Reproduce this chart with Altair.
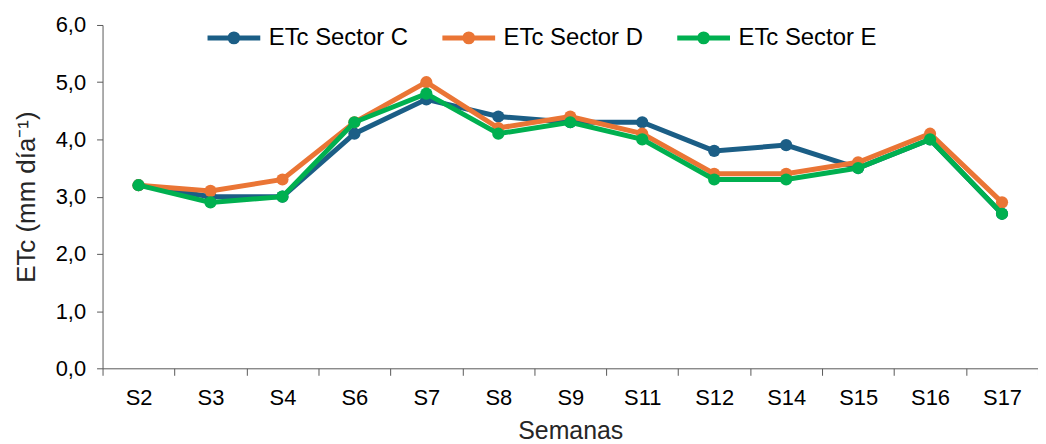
import altair as alt
import pandas as pd

semanas = ["S2", "S3", "S4", "S6", "S7", "S8", "S9", "S11", "S12", "S14", "S15", "S16", "S17"]
sector_c = [3.2, 3.0, 3.0, 4.1, 4.7, 4.4, 4.3, 4.3, 3.8, 3.9, 3.5, 4.0, 2.7]
sector_d = [3.2, 3.1, 3.3, 4.3, 5.0, 4.2, 4.4, 4.1, 3.4, 3.4, 3.6, 4.1, 2.9]
sector_e = [3.2, 2.9, 3.0, 4.3, 4.8, 4.1, 4.3, 4.0, 3.3, 3.3, 3.5, 4.0, 2.7]
series = ["ETc Sector C", "ETc Sector D", "ETc Sector E"]
colors = ["#1B5E86", "#EA7535", "#00B050"]

rows = []
for name, vals in zip(series, [sector_c, sector_d, sector_e]):
    for s, v in zip(semanas, vals):
        rows.append({"Semana": s, "ETc": v, "Serie": name})
df = pd.DataFrame(rows)

font = "Liberation Sans"
axis_color = "#595959"

x_enc = alt.X(
    "Semana:N",
    sort=semanas,
    scale=alt.Scale(type="band", paddingInner=0, paddingOuter=0),
    bandPosition=0.5,
    axis=alt.Axis(
        title="Semanas", tickBand="extent", labelAngle=0, labelFontSize=22,
        titleFontSize=25, titleFontWeight="normal", labelColor="black",
        titleColor="#262626", domainColor=axis_color, tickColor=axis_color,
        tickSize=7, labelPadding=12, titlePadding=11, grid=False,
        labelFont=font, titleFont=font,
    ),
)
y_enc = alt.Y(
    "ETc:Q",
    scale=alt.Scale(domain=[0, 6]),
    axis=alt.Axis(
        title="ETc (mm día⁻¹)", values=[0, 1, 2, 3, 4, 5, 6],
        labelExpr="replace(format(datum.value, '.1f'), '.', ',')",
        labelFontSize=22, titleFontSize=26, titleFontWeight="normal",
        labelColor="black", titleColor="#262626", domainColor=axis_color,
        tickColor=axis_color, tickSize=6, labelPadding=11, titlePadding=16,
        grid=False, labelFont=font, titleFont=font,
    ),
)
color_enc = alt.Color(
    "Serie:N",
    scale=alt.Scale(domain=series, range=colors),
    legend=alt.Legend(
        title=None, orient="none", direction="horizontal",
        legendX=103, legendY=-16,
        symbolType="M-1,0L1,0M-0.15,0A0.15,0.15 0 1,1 0.15,0A0.15,0.15 0 1,1 -0.15,0Z",
        symbolSize=2809, symbolStrokeWidth=5, labelFontSize=24,
        labelFont=font, labelColor="black", columnPadding=23, labelOffset=6,
    ),
)

layers = []
for name in series:
    base = alt.Chart(df).transform_filter(alt.datum.Serie == name)
    layers.append(base.mark_line(strokeWidth=5).encode(x=x_enc, y=y_enc, color=color_enc))
    layers.append(base.mark_point(filled=True, size=150, opacity=1).encode(x=x_enc, y=y_enc, color=color_enc))

chart = alt.layer(*layers).properties(
    width=940, height=345,
    autosize=alt.AutoSizeParams(type="none"),
    padding={"left": 95, "top": 16, "right": 0, "bottom": 75},
).configure_view(stroke=None)

chart.save("out.html", embed_options={"renderer": "svg", "actions": False})
